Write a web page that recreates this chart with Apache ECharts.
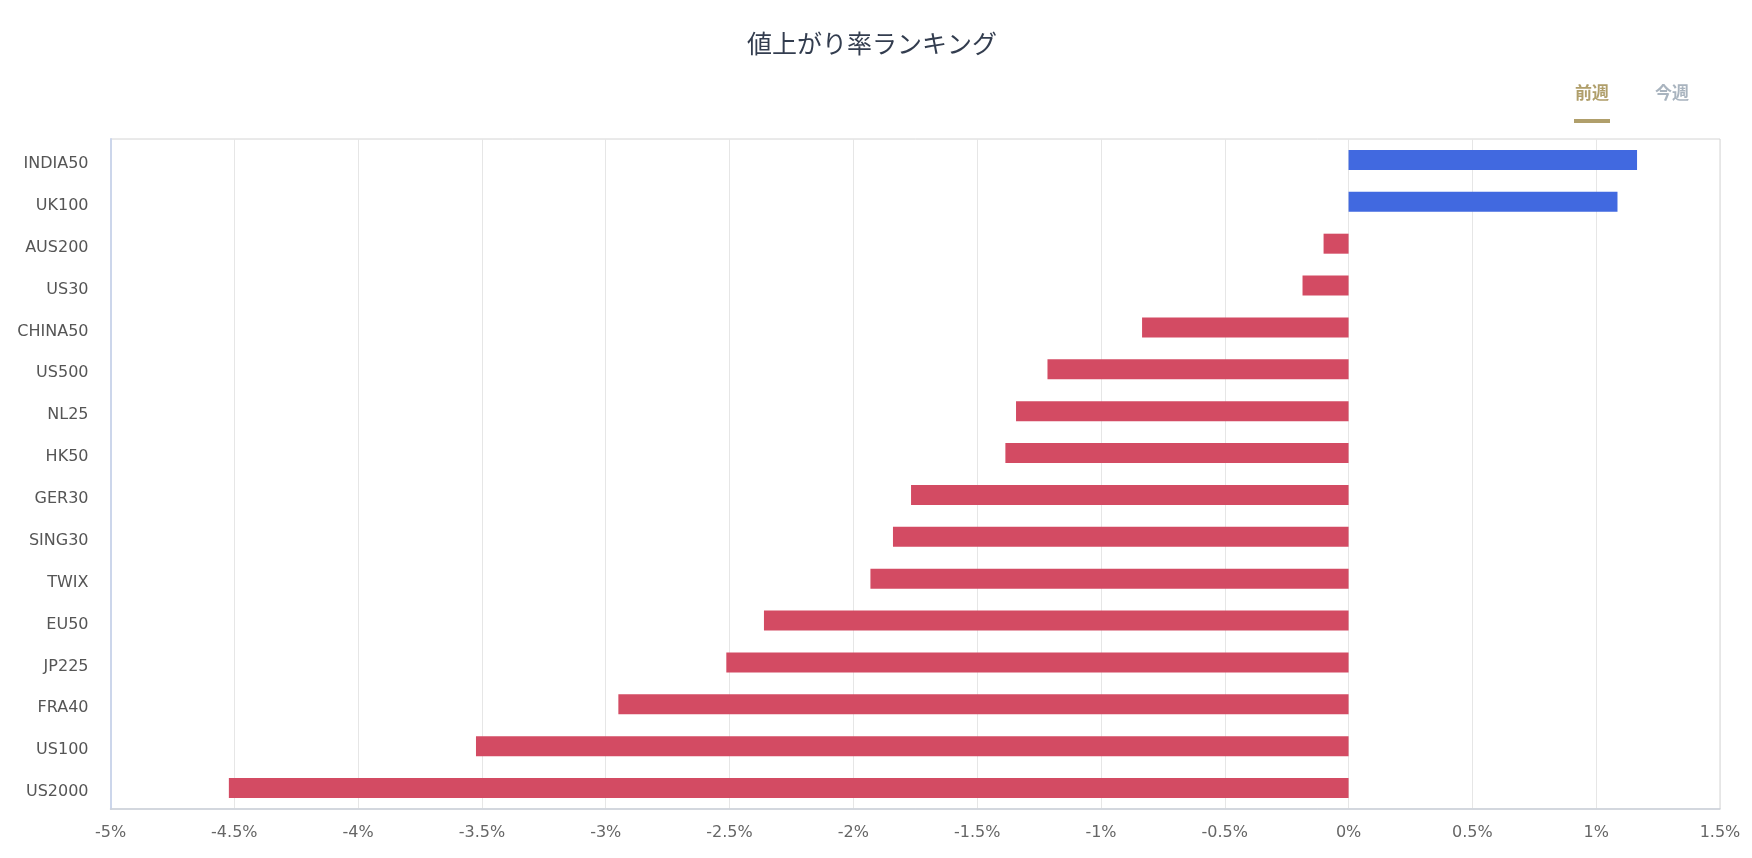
<!DOCTYPE html>
<html>
<head>
<meta charset="utf-8">
<script src="https://cdn.jsdelivr.net/npm/echarts@6/dist/echarts.min.js"></script>
<style>
html,body{margin:0;padding:0;background:#fff;}
#chart{width:1752px;height:858px;}
</style>
</head>
<body>
<div id="chart"></div>
<script>
const titleText = '値上がり率ランキング';
const tabLabels = ['前週', '今週'];
const categories = ['INDIA50','UK100','AUS200','US30','CHINA50','US500','NL25','HK50','GER30','SING30','TWIX','EU50','JP225','FRA40','US100','US2000'];
const values = [1.165, 1.086, -0.101, -0.186, -0.834, -1.216, -1.343, -1.386, -1.767, -1.840, -1.931, -2.361, -2.513, -2.949, -3.524, -4.522];
const xMin = -5, xMax = 1.5, xStep = 0.5;

const UP = '#4169e0', DOWN = '#d34b63';
const chart = echarts.init(document.getElementById('chart'), null, {renderer: 'canvas'});
chart.setOption({
  backgroundColor: '#ffffff',
  animation: false,
  title: {
    text: titleText,
    left: 742,
    top: 26,
    textStyle: {fontFamily: 'Noto Sans CJK JP', fontSize: 25, fontWeight: 'normal', color: '#333d4f'}
  },
  graphic: [
    {type: 'text', x: 1592, y: 93, style: {text: tabLabels[0], fill: '#b09f6b', font: 'bold 17px "Noto Sans CJK JP"', textAlign: 'center', textVerticalAlign: 'middle'}},
    {type: 'text', x: 1672, y: 93, style: {text: tabLabels[1], fill: '#a9b4bf', font: 'bold 17px "Noto Sans CJK JP"', textAlign: 'center', textVerticalAlign: 'middle'}},
    {type: 'rect', shape: {x: 1574, y: 119, width: 36, height: 4}, style: {fill: '#b09f6b'}}
  ],
  grid: {
    left: 110.5, right: 32, top: 139, bottom: 49,
    show: true, borderColor: '#d4d4d4', borderWidth: 1, backgroundColor: '#fff'
  },
  xAxis: {
    type: 'value',
    min: xMin, max: xMax, interval: xStep,
    axisLine: {show: true, lineStyle: {color: '#ccd1da', width: 1.5}},
    axisTick: {show: false},
    splitLine: {show: true, lineStyle: {color: '#e6e6e6', width: 1}},
    axisLabel: {
      formatter: v => v + '%',
      fontFamily: 'DejaVu Sans', fontSize: 16, color: '#666', margin: 16
    }
  },
  yAxis: {
    type: 'category',
    data: categories,
    inverse: true,
    axisLine: {show: true, onZero: false, lineStyle: {color: '#ccd6eb', width: 2}},
    axisTick: {show: false},
    splitLine: {show: false},
    axisLabel: {
      margin: 22,
      formatter: v => '{a|' + v + '}',
      rich: {a: {fontFamily: 'DejaVu Sans', fontSize: 16, color: '#555', padding: [8, 0, 0, 0]}}
    }
  },
  series: [{
    type: 'bar',
    data: values,
    barWidth: 20,
    itemStyle: {
      color: p => (p.value >= 0 ? UP : DOWN)
    }
  }]
});
</script>
</body>
</html>
